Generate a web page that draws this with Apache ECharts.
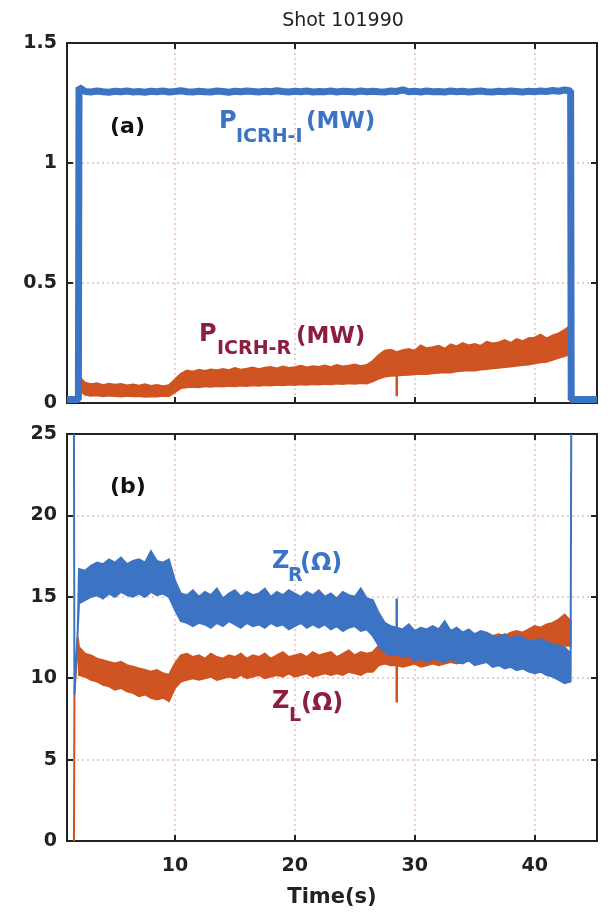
<!DOCTYPE html>
<html>
<head>
<meta charset="utf-8">
<script src="https://cdn.jsdelivr.net/npm/echarts@6/dist/echarts.min.js"></script>
<style>html,body{margin:0;padding:0;background:#fff}#c{width:610px;height:914px}</style>
</head>
<body>
<div id="c"></div>
<script>
// ---- sample times (s), 0.5 s grid from 2.0 to 43.0 ----
const tGrid = [2,2.5,3,3.5,4,4.5,5,5.5,6,6.5,
  7,7.5,8,8.5,9,9.5,10,10.5,11,11.5,
  12,12.5,13,13.5,14,14.5,15,15.5,16,16.5,
  17,17.5,18,18.5,19,19.5,20,20.5,21,21.5,
  22,22.5,23,23.5,24,24.5,25,25.5,26,26.5,
  27,27.5,28,28.5,29,29.5,30,30.5,31,31.5,
  32,32.5,33,33.5,34,34.5,35,35.5,36,36.5,
  37,37.5,38,38.5,39,39.5,40,40.5,41,41.5,
  42,42.5,43];

// ---- panel (a): P_ICRH-I (MW) ----
const piLeadT = [1.0, 1.95];
const piLeadV = [0.015, 0.015];
const piVals = [1.315,1.298,1.296,1.300,1.297,1.295,1.299,1.297,1.300,1.296,
  1.298,1.295,1.299,1.297,1.300,1.296,1.298,1.301,1.297,1.296,
  1.299,1.297,1.296,1.300,1.298,1.295,1.299,1.297,1.300,1.298,
  1.296,1.299,1.297,1.301,1.298,1.296,1.299,1.297,1.300,1.296,
  1.298,1.297,1.300,1.296,1.299,1.298,1.296,1.300,1.297,1.299,
  1.297,1.296,1.300,1.298,1.305,1.297,1.299,1.296,1.300,1.297,
  1.298,1.296,1.300,1.297,1.299,1.296,1.298,1.300,1.297,1.296,
  1.299,1.297,1.300,1.298,1.296,1.299,1.297,1.300,1.298,1.302,
  1.299,1.304,1.300];
const piTailT = [43.05, 45.2];
const piTailV = [0.015, 0.015];

// ---- panel (a): P_ICRH-R (MW), noise band lower / upper ----
const prLeadT = [1.0, 1.92];
const prLeadV = [0.004, 0.004];
const prLow = [0.055,0.035,0.030,0.032,0.028,0.031,0.029,0.027,0.030,0.028,
  0.029,0.026,0.028,0.027,0.030,0.029,0.045,0.062,0.066,0.068,
  0.066,0.070,0.068,0.071,0.069,0.072,0.070,0.073,0.071,0.074,
  0.072,0.075,0.073,0.076,0.074,0.077,0.075,0.078,0.076,0.079,
  0.077,0.080,0.078,0.081,0.079,0.082,0.080,0.083,0.081,0.090,
  0.102,0.110,0.114,0.115,0.117,0.118,0.120,0.122,0.121,0.124,
  0.126,0.128,0.127,0.132,0.134,0.136,0.135,0.140,0.142,0.145,
  0.147,0.150,0.152,0.155,0.158,0.160,0.166,0.170,0.172,0.180,
  0.188,0.196,0.205];
const prHigh = [0.110,0.085,0.078,0.082,0.074,0.080,0.076,0.079,0.073,0.077,
  0.072,0.078,0.071,0.075,0.070,0.074,0.098,0.122,0.135,0.130,
  0.138,0.133,0.140,0.136,0.142,0.137,0.146,0.139,0.143,0.148,
  0.141,0.147,0.150,0.144,0.152,0.146,0.149,0.155,0.148,0.153,
  0.150,0.156,0.149,0.158,0.152,0.155,0.160,0.153,0.158,0.175,
  0.200,0.218,0.222,0.212,0.220,0.225,0.218,0.240,0.228,0.232,
  0.238,0.226,0.244,0.236,0.250,0.240,0.246,0.238,0.255,0.248,
  0.252,0.262,0.250,0.266,0.258,0.270,0.272,0.285,0.268,0.282,
  0.290,0.305,0.322];
const prTailT = [43.05, 45.2];
const prTailV = [0.004, 0.004];
const prSpikeT = [28.5, 28.5];
const prSpikeV = [0.115, 0.028];

// ---- panel (b): Z_R (Ohm), noise band lower / upper ----
const zrLeadT = [1.58, 1.62, 1.9];
const zrLeadV = [30, 9.0, 13.0];
const zrLow = [14.6,14.8,15.0,15.1,14.9,15.2,15.0,15.3,15.1,15.0,
  15.2,15.0,15.3,15.1,15.2,15.0,14.2,13.5,13.4,13.2,
  13.4,13.3,13.1,13.4,13.2,13.5,13.3,13.1,13.4,13.2,
  13.3,13.1,13.4,13.2,13.3,13.0,13.2,13.4,13.1,13.3,
  13.1,13.3,13.0,13.2,12.9,13.1,13.2,12.9,13.0,12.6,
  12.0,11.6,11.4,11.5,11.3,11.4,11.1,11.2,11.0,11.2,
  11.1,11.0,11.2,11.0,10.9,11.1,10.8,10.9,11.0,10.7,
  10.8,10.6,10.7,10.5,10.6,10.4,10.3,10.4,10.2,10.1,
  9.9,9.7,9.8];
const zrHigh = [16.7,16.6,16.9,17.1,17.0,17.3,17.1,17.4,17.0,17.2,
  17.3,17.1,17.8,17.2,17.1,17.3,16.0,15.2,15.1,15.4,
  15.0,15.3,15.1,15.5,14.9,15.2,15.4,15.0,15.3,15.1,
  15.2,15.5,15.0,15.3,15.1,15.4,15.2,15.0,15.3,15.1,
  15.4,15.0,15.2,14.9,15.3,15.1,15.0,15.5,14.9,14.8,
  14.0,13.4,13.2,13.1,13.0,13.3,12.9,13.1,13.0,13.2,
  13.0,13.5,12.9,13.1,12.8,13.0,12.7,12.9,12.8,12.6,
  12.5,12.7,12.4,12.6,12.5,12.3,12.3,12.4,12.2,12.1,
  12.0,11.9,11.5];
const zrTailT = [43.05];
const zrTailV = [30];
const zrSpikeT = [28.5, 28.5];
const zrSpikeV = [13.1, 14.9];

// ---- panel (b): Z_L (Ohm), noise band lower / upper ----
const zlLeadT = [1.58, 1.62, 1.9];
const zlLeadV = [-2, 9.0, 12.5];
const zlLow = [10.2,10.1,9.9,9.8,9.6,9.5,9.3,9.4,9.2,9.1,
  8.9,9.0,8.8,8.7,8.8,8.6,9.4,9.8,9.9,10.0,
  9.9,10.0,10.1,9.9,10.0,10.1,10.0,10.2,10.0,10.1,
  10.2,10.0,10.1,10.2,10.1,10.3,10.1,10.2,10.3,10.1,
  10.2,10.3,10.2,10.3,10.2,10.4,10.3,10.2,10.4,10.4,
  10.8,10.9,10.8,10.8,10.7,10.8,10.9,10.7,10.8,10.9,
  10.8,10.9,11.0,10.9,11.0,11.1,11.0,11.1,11.2,11.1,
  11.2,11.3,11.3,11.4,11.5,11.5,11.6,11.7,11.7,11.8,
  11.9,12.0,12.0];
const zlHigh = [11.9,11.5,11.4,11.2,11.1,11.0,10.9,11.0,10.8,10.7,
  10.6,10.5,10.4,10.5,10.3,10.2,10.9,11.4,11.5,11.3,
  11.4,11.2,11.5,11.3,11.2,11.4,11.3,11.5,11.2,11.4,
  11.3,11.5,11.2,11.4,11.6,11.3,11.4,11.5,11.3,11.6,
  11.4,11.5,11.6,11.3,11.5,11.7,11.4,11.6,11.5,11.6,
  12.0,12.1,12.0,12.1,11.9,12.0,12.1,12.0,12.2,12.0,
  12.1,12.2,12.1,12.3,12.2,12.4,12.3,12.5,12.4,12.6,
  12.7,12.6,12.8,12.9,12.8,13.0,13.2,13.1,13.3,13.4,
  13.6,13.9,13.5];
const zlTailT = [];
const zlTailV = [];
const zlSpikeT = [28.5, 28.5];
const zlSpikeV = [10.8, 8.5];

// ---- axes ----
const xMin = 1.0, xMax = 45.2;
const yaMin = 0, yaMax = 1.5, yaStep = 0.5;
const ybMin = 0, ybMax = 25, ybStep = 5;

// ---- styling ----
const BLUE = '#3d73c3';
const ORANGE = '#cf5421';
const BLUE_TXT = '#3c74c4';
const RED_TXT = '#8c1e3e';
const AXIS = '#222';
const GRIDC = '#e8bcc3';
const FONT = '"DejaVu Sans", "Liberation Sans", Arial, sans-serif';

function pairs(ts, vs) { return ts.map((t, i) => [t, vs[i]]); }

// noise band drawn as a polygon between lower and upper envelopes, via the axes' own scales
function bandSeries(name, leadT, leadV, lo, hi, tailT, tailV, color, xi, yi) {
  const xs = leadT.concat(tGrid, tailT);
  const L = leadV.concat(lo, tailV);
  const H = leadV.concat(hi, tailV);
  return {
    type: 'custom', name: name, xAxisIndex: xi, yAxisIndex: yi, silent: true, z: 2,
    data: [[xs[0], L[0]]],
    renderItem: function (params, api) {
      const pts = [];
      for (let i = 0; i < xs.length; i++) pts.push(api.coord([xs[i], H[i]]));
      for (let i = xs.length - 1; i >= 0; i--) pts.push(api.coord([xs[i], L[i]]));
      return { type: 'polygon',
        shape: { points: echarts.graphic.clipPointsByRect(pts, params.coordSys) },
        style: { fill: color, stroke: color, lineWidth: 2, lineJoin: 'miter' } };
    }
  };
}
function spike(ts, vs, color, xi, yi) {
  return { type: 'line', xAxisIndex: xi, yAxisIndex: yi, data: pairs(ts, vs), symbol: 'none',
    lineStyle: { color: color, width: 2.5 }, silent: true, z: 3 };
}

const tickStyle = { inside: true, length: 6, lineStyle: { color: AXIS, width: 2 } };
const lineStyleAxis = { show: true, onZero: false, lineStyle: { color: AXIS, width: 2 } };
const splitStyle = { show: true, lineStyle: { type: [2, 3], color: GRIDC, width: 1.5 } };
const labelFont = { fontFamily: FONT, fontWeight: 'bold', fontSize: 19, color: AXIS };

function xAx(gi, pos, showLabel) {
  return { type: 'value', gridIndex: gi, position: pos, min: xMin, max: xMax, splitNumber: 4,
    axisLine: lineStyleAxis, axisTick: tickStyle,
    axisLabel: Object.assign({ show: showLabel, margin: 16, showMinLabel: false, showMaxLabel: false }, labelFont),
    splitLine: pos === 'bottom' ? splitStyle : { show: false } };
}
function yAx(gi, pos, mn, mx, step) {
  return { type: 'value', gridIndex: gi, position: pos, min: mn, max: mx, interval: step,
    axisLine: lineStyleAxis, axisTick: tickStyle,
    axisLabel: Object.assign({ show: pos === 'left', margin: 10 }, labelFont),
    splitLine: pos === 'left' ? splitStyle : { show: false } };
}

const series = [
  bandSeries('PR', prLeadT, prLeadV, prLow, prHigh, prTailT, prTailV, ORANGE, 0, 0),
  spike(prSpikeT, prSpikeV, ORANGE, 0, 0),
  { type: 'line', name: 'PI', xAxisIndex: 0, yAxisIndex: 0,
    data: pairs(piLeadT.concat(tGrid, piTailT), piLeadV.concat(piVals, piTailV)),
    symbol: 'none', lineStyle: { color: BLUE, width: 7 }, silent: true, z: 4 },
  bandSeries('ZL', zlLeadT, zlLeadV, zlLow, zlHigh, zlTailT, zlTailV, ORANGE, 2, 2),
  spike(zlSpikeT, zlSpikeV, ORANGE, 2, 2),
  bandSeries('ZR', zrLeadT, zrLeadV, zrLow, zrHigh, zrTailT, zrTailV, BLUE, 2, 2),
  spike(zrSpikeT, zrSpikeV, BLUE, 2, 2)
];

function txt(s, x, y, size, color, weight, align) {
  return { type: 'text', x: x, y: y, silent: true, z: 100,
    style: { text: s, fill: color, font: (weight || 'bold') + ' ' + size + 'px ' + FONT,
      align: align || 'left', textAlign: align || 'left', verticalAlign: 'middle', textVerticalAlign: 'middle' } };
}

const chart = echarts.init(document.getElementById('c'), null, { renderer: 'canvas' });
chart.setOption({
  animation: false,
  backgroundColor: '#fff',
  grid: [
    { left: 67, right: 13, top: 43, height: 360 },
    { left: 67, right: 13, top: 434, height: 407 }
  ],
  xAxis: [xAx(0, 'bottom', false), xAx(0, 'top', false), xAx(1, 'bottom', true), xAx(1, 'top', false)],
  yAxis: [yAx(0, 'left', yaMin, yaMax, yaStep), yAx(0, 'right', yaMin, yaMax, yaStep),
          yAx(1, 'left', ybMin, ybMax, ybStep), yAx(1, 'right', ybMin, ybMax, ybStep)],
  series: series,
  graphic: [
    txt('Shot 101990', 343, 21, 19, AXIS, 'normal', 'center'),
    txt('(a)', 110, 127, 22, '#111'),
    txt('(b)', 110, 487, 22, '#111'),
    txt('P', 219, 122, 24, BLUE_TXT), txt('ICRH-I', 236, 137, 19, BLUE_TXT), txt('(MW)', 306, 122, 23, BLUE_TXT),
    txt('P', 199, 335, 24, RED_TXT), txt('ICRH-R', 217, 349, 19, RED_TXT), txt('(MW)', 296, 337, 23, RED_TXT),
    txt('Z', 272, 562, 24, BLUE_TXT), txt('R', 288, 576, 19, BLUE_TXT), txt('(Ω)', 300, 564, 24, BLUE_TXT),
    txt('Z', 272, 702, 24, RED_TXT), txt('L', 289, 716, 19, RED_TXT), txt('(Ω)', 301, 704, 24, RED_TXT),
    txt('Time(s)', 332, 898, 21, AXIS, 'bold', 'center')
  ]
});
</script>
</body>
</html>
